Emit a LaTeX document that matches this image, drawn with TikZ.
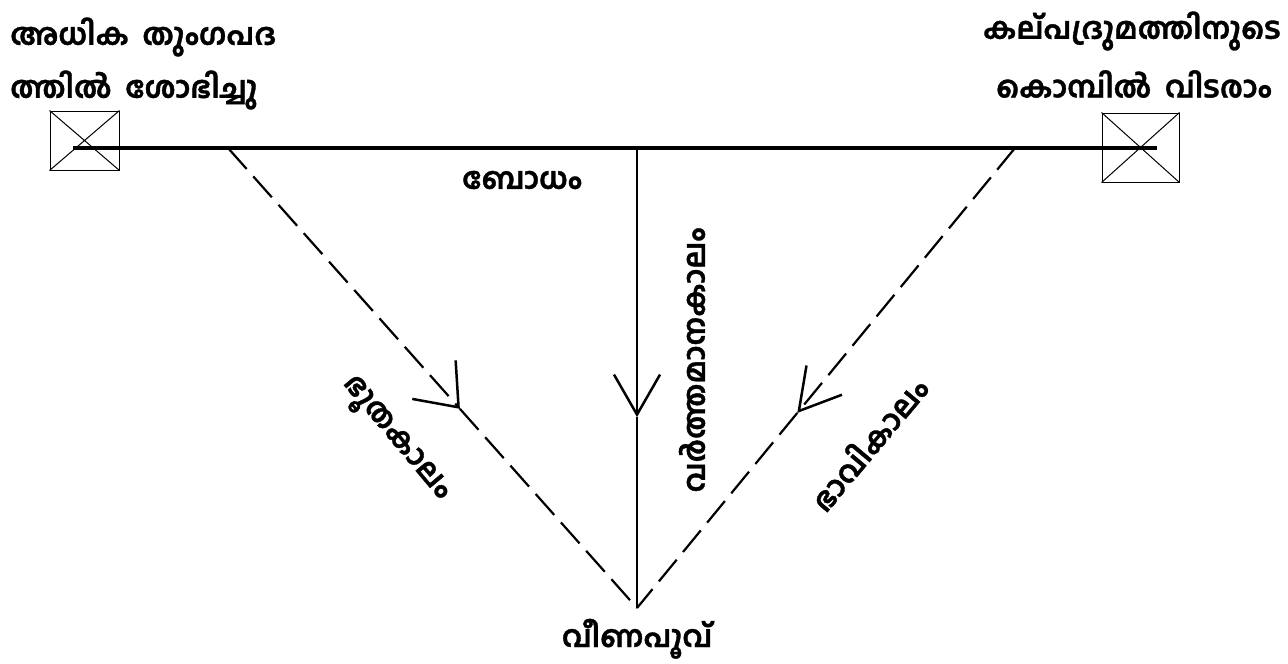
\documentclass[tikz,border=0pt]{standalone}
\usepackage{fontspec}
\newfontfamily\ml[Script=Malayalam, FakeBold=1.2, WordSpace=1.8]{Hind Kochi}
\usetikzlibrary{arrows.meta}
\tikzset{
  mltext/.style={font=\ml\bfseries\fontsize{30}{30}\selectfont, inner sep=0pt},
  crossbox/.style={draw, line width=1pt, inner sep=0pt, minimum width=#1},
  mainline/.style={line width=4pt},
  timeline/.style={line width=2.5pt},
  dashline/.style={line width=2.2pt, dash pattern=on 28pt off 10pt},
  barb/.style={-{Straight Barb[length=40pt, width=46pt, line width=2.5pt]}},
  widebarb/.style={-{Straight Barb[length=37pt, width=58pt, line width=2.5pt]}}
}
\begin{document}
\begin{tikzpicture}[x=1pt,y=-1pt]
\useasboundingbox (0,0) rectangle (1288,664);
% boxes
\node[crossbox=69pt, minimum height=59pt] (lb) at (84.5,140.5) {};
\draw[line width=1pt] (lb.north west) -- (lb.south east) (lb.north east) -- (lb.south west);
\node[crossbox=77pt, minimum height=69pt] (rb) at (1140.5,147.5) {};
\draw[line width=1pt] (rb.north west) -- (rb.south east) (rb.north east) -- (rb.south west);
% main line
\coordinate (ml) at (73,148);
\coordinate (mr) at (1157,148);
\draw[mainline] (ml) -- (mr);
\coordinate (lt) at (228,148);
\coordinate (ct) at (637,148);
\coordinate (rt) at (1015,148);
\coordinate (v) at (637,608);
\path (lt) -- coordinate[pos=0.567] (la) (v);
\path (ct) -- coordinate[pos=0.585] (ca) (v);
\path (rt) -- coordinate[pos=0.576] (ra) (v);
\draw[dashline, widebarb] (lt) -- (la);
\draw[dashline] (la) -- (v);
\draw[dashline, barb] (rt) -- (ra);
\draw[dashline] (ra) -- (v);
\draw[timeline, barb] (ct) -- (ca);
\draw[timeline] (ca) -- (v);
% texts
\node[mltext, anchor=west] (t1) at (10,37) {അധിക തുംഗപദ};
\node[mltext, anchor=west] (t2) at (10,90) {ത്തിൽ ശോഭിച്ചു};
\node[mltext, anchor=east] (t3) at (1281,31) {കല്പദ്രുമത്തിനുടെ};
\node[mltext, anchor=east] (t4) at (1272,84) {കൊമ്പിൽ വിടരാം};
\node[mltext] (bo) at (522,180) {ബോധം};
\node[mltext, rotate=90] (va) at (692,360) {വർത്തമാനകാലം};
\node[mltext, rotate=-50] (bh) at (394,440) {ഭൂതകാലം};
\node[mltext, rotate=50] (bv) at (868,443) {ഭാവികാലം};
\node[mltext, anchor=base] (vi) at (637,647) {വീണപൂവ്};
\end{tikzpicture}
\end{document}
